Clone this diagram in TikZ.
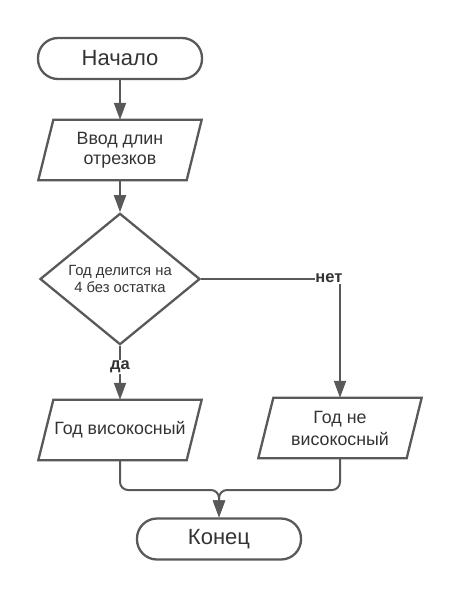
\documentclass[tikz,border=0pt]{standalone}
\usepackage{fontspec}
\setmainfont{Liberation Sans}
\usetikzlibrary{shapes.geometric,arrows.meta,calc}
\definecolor{ln}{HTML}{595959}
\definecolor{tx}{HTML}{333333}
\tikzset{
  shapeline/.style={draw=ln, line width=2.3pt},
  term/.style={shapeline, rounded corners=20pt, minimum width=164pt, minimum height=41pt, inner sep=0pt, text=tx, font=\fontsize{22}{26}\selectfont},
  parabox/.style={minimum width=163pt, minimum height=60pt, inner sep=0pt, text=tx, align=center},
  decision/.style={shapeline, diamond, minimum width=160pt, minimum height=121pt, inner sep=0pt, text=tx, align=center, font=\fontsize{14.8}{17.5}\selectfont},
  conn/.style={draw=ln, line width=2pt, -{Triangle[length=17pt,width=12pt]}},
  lbl/.style={fill=white, text=tx, inner sep=1pt, font=\bfseries\fontsize{16.5}{19}\selectfont},
}
\newcommand{\drawpara}[1]{%
  \draw[shapeline] ($(#1.north west)+(15pt,0)$) -- (#1.north east) -- ($(#1.south east)-(15pt,0)$) -- (#1.south west) -- cycle;}
\begin{document}
\begin{tikzpicture}[x=1pt,y=-1pt]
\useasboundingbox (0,0) rectangle (460,600);
\node[term] (start) at (120,58.5) {Начало};
\node[parabox, font=\fontsize{17.8}{19.5}\selectfont] (input) at (120,150) {Ввод длин\\отрезков};
\drawpara{input}
\node[decision] (cond) at (120,279) {Год делится на\\4 без остатка};
\node[parabox, font=\fontsize{17.8}{20}\selectfont] (yes) at (120,430) {Год високосный};
\drawpara{yes}
\node[parabox, font=\fontsize{17.8}{22}\selectfont] (no) at (340,428) {Год не\\високосный};
\drawpara{no}
\node[term] (stop) at (219,539) {Конец};
\coordinate (corner) at (340,279);
\coordinate (merge) at (219,490);

\draw[conn] (start) -- (input);
\draw[conn] (input) -- (cond);
\draw[conn] (cond.east) -- (corner) -- (no);
\node[lbl] (nolbl) at (329,278) {нет};
\draw[conn] (cond.south) -- (yes);
\node[lbl] (yeslbl) at (120,367) {да};
\draw[conn, rounded corners=8pt] (yes.south) |- (merge) -- (stop.north);
\draw[conn, rounded corners=8pt] (no.south) |- (merge) -- (stop.north);
\end{tikzpicture}
\end{document}
